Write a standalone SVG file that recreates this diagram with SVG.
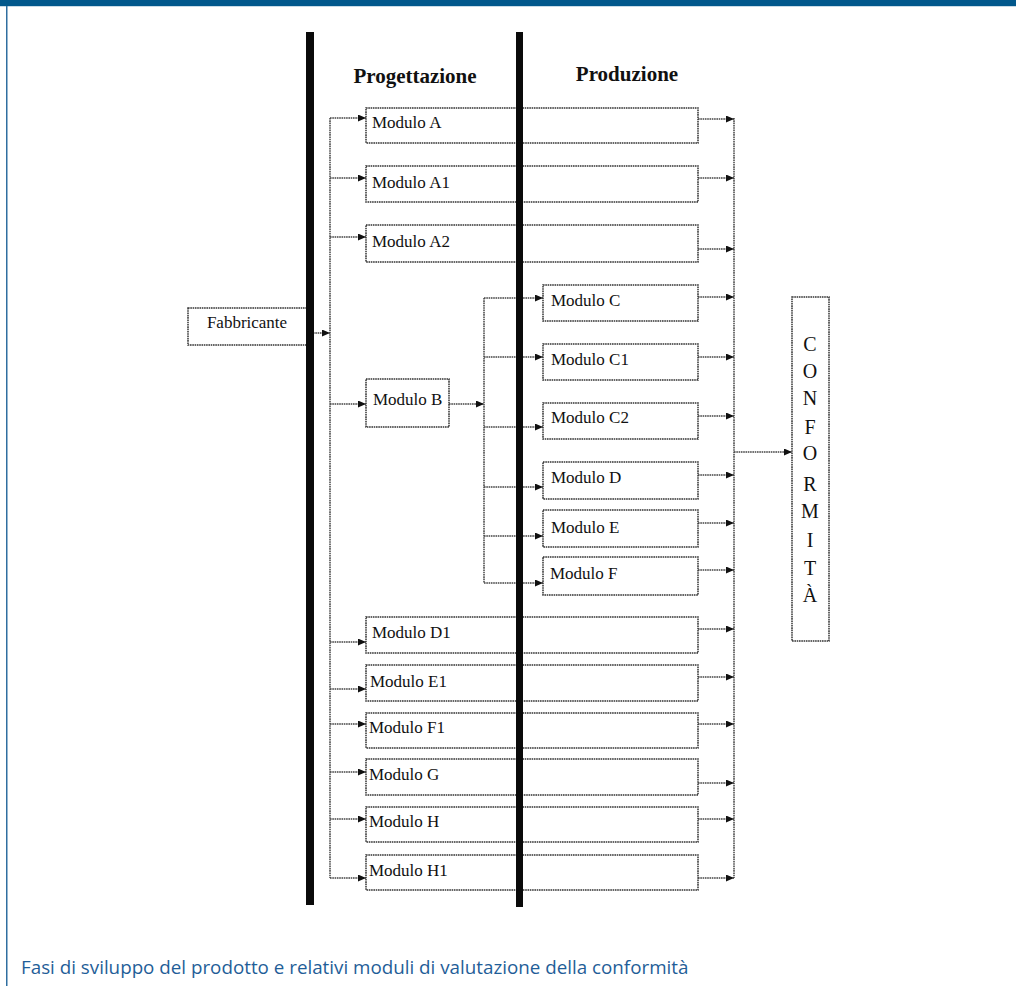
<svg xmlns="http://www.w3.org/2000/svg" width="1016" height="986" viewBox="0 0 1016 986">
<style>
.box{fill:#fff;stroke:#333;stroke-width:1.5;stroke-dasharray:1.6 0.7}
.ln{fill:none;stroke:#444;stroke-width:1.5;stroke-dasharray:1.6 0.7}
.arr{fill:none;stroke:#444;stroke-width:1.5;stroke-dasharray:1.6 0.7;marker-end:url(#ah)}
.lbl{font-family:"Liberation Serif",serif;font-size:17px;fill:#111}
.hd{font-family:"Liberation Serif",serif;font-size:21px;font-weight:bold;fill:#111;text-anchor:middle}
.cf{font-family:"Liberation Serif",serif;font-size:20px;fill:#111;text-anchor:middle}
.bar{fill:#0a0a0a}
</style>
<defs>
<marker id="ah" markerUnits="userSpaceOnUse" markerWidth="8" markerHeight="7" refX="8" refY="3.5" orient="auto">
<path d="M0,0 L8,3.5 L0,7 z" fill="#111"/>
</marker>
</defs>
<rect x="0" y="0" width="1016" height="986" fill="#fff"/>
<rect x="0" y="0" width="1016" height="6" fill="#02588c"/>
<rect x="0" y="6" width="1016" height="1" fill="#c9dbe7"/>
<rect x="6" y="6" width="1.5" height="980" fill="#2f6ea0"/>

<text class="hd" x="415" y="83">Progettazione</text>
<text class="hd" x="627" y="81">Produzione</text>

<g id="connectors">
<path class="ln" d="M330,118 V878"/>
<path class="arr" d="M313,333 H330"/>
<path class="arr" d="M330,118 H366"/>
<path class="arr" d="M330,178 H366"/>
<path class="arr" d="M330,237 H366"/>
<path class="arr" d="M330,404 H366"/>
<path class="arr" d="M330,642 H366"/>
<path class="arr" d="M330,689 H366"/>
<path class="arr" d="M330,724 H366"/>
<path class="arr" d="M330,772 H366"/>
<path class="arr" d="M330,819 H366"/>
<path class="arr" d="M330,878 H366"/>
<path class="arr" d="M449,404 H484"/>
<path class="ln" d="M484,298 V583"/>
<path class="arr" d="M484,298 H543"/>
<path class="arr" d="M484,357 H543"/>
<path class="arr" d="M484,427 H543"/>
<path class="arr" d="M484,487 H543"/>
<path class="arr" d="M484,536 H543"/>
<path class="arr" d="M484,583 H543"/>
<path class="ln" d="M734,118 V878"/>
<path class="arr" d="M698,119 H734"/>
<path class="arr" d="M698,178 H734"/>
<path class="arr" d="M698,249 H734"/>
<path class="arr" d="M698,297 H734"/>
<path class="arr" d="M698,357 H734"/>
<path class="arr" d="M698,416 H734"/>
<path class="arr" d="M698,475 H734"/>
<path class="arr" d="M698,523 H734"/>
<path class="arr" d="M698,570 H734"/>
<path class="arr" d="M698,629 H734"/>
<path class="arr" d="M698,677 H734"/>
<path class="arr" d="M698,724 H734"/>
<path class="arr" d="M698,783 H734"/>
<path class="arr" d="M698,819 H734"/>
<path class="arr" d="M698,878 H734"/>
<path class="arr" d="M734,452 H792"/>
</g>

<g id="fabbricante"><rect class="box" x="188" y="308" width="119" height="37"/><text class="lbl" x="247" y="328" text-anchor="middle">Fabbricante</text></g>

<g id="modulo-a"><rect class="box" x="366" y="108" width="332" height="35"/><text class="lbl" x="372" y="128">Modulo A</text></g>
<g id="modulo-a1"><rect class="box" x="366" y="166" width="332" height="36"/><text class="lbl" x="372" y="188">Modulo A1</text></g>
<g id="modulo-a2"><rect class="box" x="366" y="225" width="332" height="37"/><text class="lbl" x="372" y="247">Modulo A2</text></g>

<g id="modulo-b"><rect class="box" x="366" y="379" width="83" height="48"/><text class="lbl" x="373" y="405">Modulo B</text></g>

<g id="modulo-c"><rect class="box" x="543" y="285" width="155" height="36"/><text class="lbl" x="551" y="306">Modulo C</text></g>
<g id="modulo-c1"><rect class="box" x="543" y="344" width="155" height="36"/><text class="lbl" x="551" y="365">Modulo C1</text></g>
<g id="modulo-c2"><rect class="box" x="543" y="403" width="155" height="36"/><text class="lbl" x="551" y="423">Modulo C2</text></g>
<g id="modulo-d"><rect class="box" x="543" y="462" width="155" height="37"/><text class="lbl" x="551" y="483">Modulo D</text></g>
<g id="modulo-e"><rect class="box" x="543" y="510" width="155" height="37"/><text class="lbl" x="551" y="533">Modulo E</text></g>
<g id="modulo-f"><rect class="box" x="543" y="557" width="155" height="38"/><text class="lbl" x="550" y="579">Modulo F</text></g>

<g id="modulo-d1"><rect class="box" x="366" y="617" width="332" height="36"/><text class="lbl" x="372" y="638">Modulo D1</text></g>
<g id="modulo-e1"><rect class="box" x="366" y="665" width="332" height="36"/><text class="lbl" x="370" y="687">Modulo E1</text></g>
<g id="modulo-f1"><rect class="box" x="366" y="713" width="332" height="35"/><text class="lbl" x="369" y="733">Modulo F1</text></g>
<g id="modulo-g"><rect class="box" x="366" y="759" width="332" height="36"/><text class="lbl" x="369" y="780">Modulo G</text></g>
<g id="modulo-h"><rect class="box" x="366" y="807" width="332" height="35"/><text class="lbl" x="369" y="827">Modulo H</text></g>
<g id="modulo-h1"><rect class="box" x="366" y="855" width="332" height="35"/><text class="lbl" x="369" y="876">Modulo H1</text></g>

<g id="conformita"><rect class="box" x="792" y="297" width="37" height="344"/>
<text class="cf" x="810" y="351">C</text>
<text class="cf" x="810" y="378">O</text>
<text class="cf" x="810" y="405">N</text>
<text class="cf" x="810" y="434">F</text>
<text class="cf" x="810" y="460">O</text>
<text class="cf" x="810" y="491">R</text>
<text class="cf" x="810" y="518">M</text>
<text class="cf" x="810" y="547">I</text>
<text class="cf" x="810" y="575">T</text>
<text class="cf" x="810" y="602">À</text>
</g>

<rect class="bar" x="306" y="32" width="8" height="873"/>
<rect class="bar" x="516" y="32" width="7" height="875"/>

<text x="21" y="974" font-family="'Open Sans',sans-serif" font-size="18.8" fill="#1f5e98">Fasi di sviluppo del prodotto e relativi moduli di valutazione della conformità</text>
</svg>
